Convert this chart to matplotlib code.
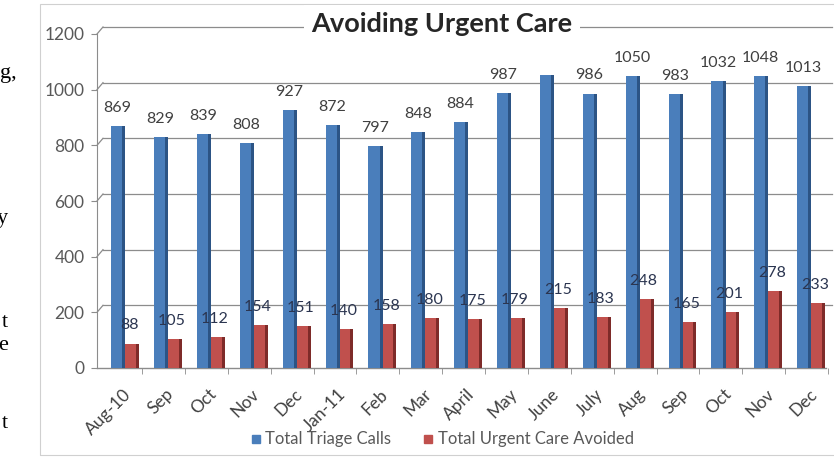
import matplotlib
matplotlib.use('Agg')
import matplotlib.pyplot as plt
import matplotlib.transforms as mtransforms
from matplotlib.patches import Rectangle
import numpy as np

months = ['Aug-10', 'Sep', 'Oct', 'Nov', 'Dec', 'Jan-11', 'Feb', 'Mar', 'April',
          'May', 'June', 'July', 'Aug', 'Sep', 'Oct', 'Nov', 'Dec']
triage_calls = [869, 829, 839, 808, 927, 872, 797, 848, 884, 987, 1052, 986,
                1050, 983, 1032, 1048, 1013]
urgent_avoided = [88, 105, 112, 154, 151, 140, 158, 180, 175, 179, 215, 183,
                  248, 165, 201, 278, 233]
# the June total is hidden behind the title in the original
hidden_label = 10
y_ticks = [0, 200, 400, 600, 800, 1000, 1200]
# word endings of the surrounding document, cut by the screenshot
side_text = ['g,', 'y', 't', 'e', 't']
side_y = [78, 223, 327, 350, 428]

blue, blue_dark = '#4A7EBB', '#2C5485'
red, red_dark = '#C0504D', '#7E2B29'
grey_txt = '#595959'
lab_txt = '#404040'

plt.rcParams['font.family'] = ['Lato', 'DejaVu Sans']

W, H = 834, 459
fig = plt.figure(figsize=(W / 100, H / 100), dpi=100)
fig.patch.set_facecolor('white')

# chart area frame
fig.patches.append(Rectangle((40 / W, 4 / H), 1.0, (H - 8) / H, transform=fig.transFigure,
                             facecolor='none', edgecolor='#d0d0d0', lw=0.8))

ax = fig.add_axes([97 / W, 1 - 368 / H, (828 - 97) / W, (368 - 34) / H])
x = np.arange(len(months))

# front faces and darker side faces (3D look)
ax.bar(x - 0.22, triage_calls, width=0.26, align='edge', color=blue, zorder=3)
ax.bar(x + 0.04, triage_calls, width=0.07, align='edge', color=blue_dark, zorder=3)
ax.bar(x + 0.11, urgent_avoided, width=0.25, align='edge', color=red, zorder=4)
ax.bar(x + 0.36, urgent_avoided, width=0.07, align='edge', color=red_dark, zorder=4)

for i in range(len(months)):
    if i != hidden_label:
        ax.annotate(str(triage_calls[i]), (x[i] - 0.07, triage_calls[i]),
                    xytext=(0, 8), textcoords='offset points', ha='center', va='bottom',
                    fontsize=11.5, color=lab_txt, zorder=6)
    ax.annotate(str(urgent_avoided[i]), (x[i] + 0.2, urgent_avoided[i]),
                xytext=(0, 8), textcoords='offset points', ha='center', va='bottom',
                fontsize=11.5, color='#2b3550', zorder=6)

ax.set_xlim(-0.55, len(months) - 0.55)
ax.set_ylim(0, 1200)

# back-wall gridlines, shifted up/right like the 3D chart
shift = mtransforms.ScaledTranslation(6 / 100, 7 / 100, fig.dpi_scale_trans)
for v in y_ticks[1:]:
    ax.plot([-0.55, len(months) - 0.55], [v, v], color='#8c8c8c', lw=0.9,
            transform=ax.transData + shift, clip_on=False, zorder=1)
    ax.plot([-0.55, -0.55 + 6 / 43], [v, v + 7 / 0.278],
            color='#8c8c8c', lw=0.9, clip_on=False, zorder=1)
ax.plot([-0.55, len(months) - 0.55], [0, 0], color='#8c8c8c', lw=1.0, zorder=2, clip_on=False)

for s in ['top', 'right', 'bottom']:
    ax.spines[s].set_visible(False)
ax.spines['left'].set_color('#8c8c8c')

ax.set_yticks(y_ticks)
ax.tick_params(axis='y', colors='#8c8c8c', labelcolor=grey_txt, labelsize=12.5,
               length=4, pad=5)
ax.set_xticks(np.arange(len(months)) + 0.5, minor=True)
ax.set_xticks(x + 0.05)
ax.set_xticklabels(months, rotation=45, ha='right', va='top', rotation_mode='anchor',
                   fontsize=12.5, color=lab_txt)
ax.tick_params(axis='x', which='major', length=0, pad=13)
ax.tick_params(axis='x', which='minor', length=4, color='#8c8c8c')

fig.text(442 / W, 1 - 24 / H, 'Avoiding Urgent Care', ha='center', va='center',
         fontsize=19.5, fontweight='bold', color='#262626',
         bbox=dict(facecolor='white', edgecolor='none', pad=5))

# legend
leg_y = 1 - 439 / H
fig.patches.append(Rectangle((252 / W, leg_y - 4 / H), 8 / W, 8 / H,
                             transform=fig.transFigure, color=blue))
fig.text(265 / W, leg_y, 'Total Triage Calls', fontsize=12, color=grey_txt, va='center')
fig.patches.append(Rectangle((424 / W, leg_y - 4 / H), 8 / W, 8 / H,
                             transform=fig.transFigure, color=red))
fig.text(438 / W, leg_y, 'Total Urgent Care Avoided', fontsize=12, color=grey_txt,
         va='center')

for t, yy in zip(side_text, side_y):
    fig.text(17 / W if t == 'g,' else 8 / W, 1 - yy / H, t, ha='right', va='baseline',
             fontsize=16, family='Liberation Serif', color='black')

fig.savefig('out.png', dpi=100, facecolor='white')
